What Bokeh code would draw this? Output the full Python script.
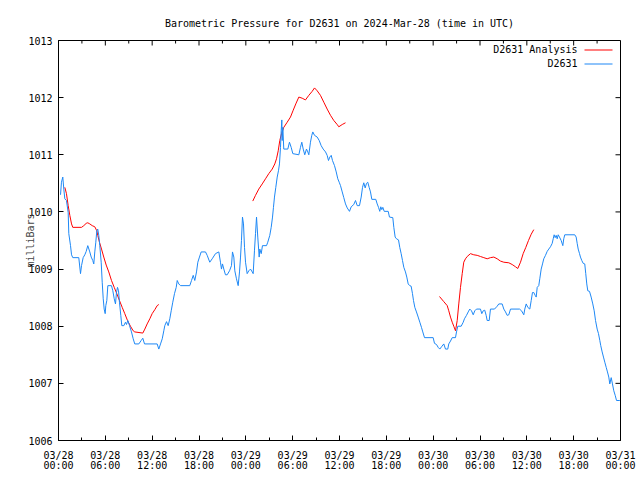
import math
from datetime import datetime, timedelta, timezone
from bokeh.plotting import figure
from bokeh.models import Range1d, FixedTicker, DatetimeTickFormatter, Label, BoxAnnotation
from bokeh.embed import file_html
from bokeh.resources import INLINE

TITLE = "Barometric Pressure for D2631 on 2024-Mar-28 (time in UTC)"
Y_LABEL = "milliBars"
SERIES_NAMES = ["D2631 Analysis", "D2631"]
SERIES_COLORS = ["#ff0000", "#1e88f5"]
START = datetime(2024, 3, 28, 0, 0)
SPAN_HOURS = 72
Y_TICKS = [1006, 1007, 1008, 1009, 1010, 1011, 1012, 1013]

# (hours since 2024-03-28 00:00 UTC, millibars)
station = [
    (0.26, 1010.30), (0.38, 1010.52), (0.55, 1010.61), (0.68, 1010.40), (0.81, 1010.23),
    (1.02, 1010.20), (1.24, 1009.99), (1.32, 1009.62), (1.54, 1009.41), (1.67, 1009.25),
    (1.83, 1009.20), (2.60, 1009.20), (2.82, 1008.92), (2.95, 1009.06), (3.16, 1009.20),
    (3.37, 1009.25), (3.55, 1009.31), (3.75, 1009.41), (4.01, 1009.30), (4.19, 1009.21),
    (4.39, 1009.15), (4.52, 1009.09), (4.65, 1009.30), (4.78, 1009.47), (4.91, 1009.67),
    (5.03, 1009.70), (5.16, 1009.59), (5.29, 1009.41), (5.47, 1009.12), (5.60, 1008.77),
    (5.73, 1008.48), (5.85, 1008.30), (5.98, 1008.22), (6.06, 1008.36), (6.19, 1008.45),
    (6.32, 1008.71), (6.79, 1008.71), (6.96, 1008.62), (7.14, 1008.48), (7.30, 1008.39),
    (7.43, 1008.59), (7.56, 1008.68), (7.69, 1008.62), (7.81, 1008.42), (7.98, 1008.19),
    (8.11, 1008.01), (8.37, 1008.01), (8.58, 1008.07), (8.71, 1008.03), (8.88, 1008.10),
    (9.10, 1008.01), (9.35, 1007.90), (9.57, 1007.78), (9.77, 1007.69), (10.29, 1007.69),
    (10.59, 1007.75), (10.80, 1007.79), (11.02, 1007.69), (12.64, 1007.69), (12.85, 1007.60),
    (13.07, 1007.69), (13.29, 1007.78), (13.49, 1007.92), (13.62, 1008.01), (13.84, 1008.08),
    (14.05, 1008.01), (14.26, 1008.13), (14.44, 1008.27), (14.64, 1008.42), (14.86, 1008.57),
    (15.08, 1008.68), (15.21, 1008.80), (15.41, 1008.74), (15.63, 1008.71), (16.82, 1008.71),
    (17.04, 1008.80), (17.26, 1008.89), (17.46, 1008.80), (17.68, 1008.95), (17.85, 1009.12),
    (18.06, 1009.21), (18.28, 1009.30), (18.83, 1009.30), (19.05, 1009.24), (19.38, 1009.12),
    (19.69, 1009.18), (20.11, 1009.27), (20.54, 1009.30), (20.75, 1009.12), (20.88, 1009.00),
    (21.01, 1009.09), (21.18, 1009.00), (21.39, 1008.90), (21.61, 1008.90), (21.91, 1008.97),
    (22.16, 1009.06), (22.29, 1009.30), (22.46, 1009.21), (22.59, 1008.97), (22.80, 1008.83),
    (23.02, 1008.71), (23.19, 1008.95), (23.32, 1009.21), (23.44, 1009.50), (23.57, 1009.91),
    (23.70, 1009.79), (23.83, 1009.38), (23.96, 1009.12), (24.17, 1008.92), (24.38, 1008.97),
    (24.60, 1009.00), (24.82, 1008.95), (24.94, 1008.92), (25.11, 1009.33), (25.24, 1009.62),
    (25.37, 1009.91), (25.53, 1009.56), (25.71, 1009.21), (25.79, 1009.35), (25.97, 1009.27),
    (26.13, 1009.41), (26.65, 1009.41), (26.81, 1009.47), (27.07, 1009.59), (27.25, 1009.73),
    (27.42, 1009.91), (27.54, 1010.08), (27.67, 1010.26), (27.84, 1010.43), (28.02, 1010.61),
    (28.18, 1010.72), (28.31, 1010.84), (28.44, 1011.13), (28.53, 1011.42), (28.61, 1011.61),
    (28.66, 1011.25), (28.74, 1011.48), (28.86, 1011.10), (29.38, 1011.10), (29.59, 1011.22),
    (29.81, 1011.13), (30.02, 1011.02), (30.79, 1011.00), (31.00, 1011.13), (31.17, 1011.22),
    (31.35, 1011.10), (31.55, 1011.00), (31.77, 1011.10), (31.94, 1011.05), (32.07, 1011.00),
    (32.28, 1011.22), (32.45, 1011.34), (32.58, 1011.40), (32.80, 1011.34), (33.14, 1011.31),
    (33.40, 1011.25), (33.65, 1011.16), (33.91, 1011.10), (34.21, 1011.05), (34.42, 1010.99),
    (34.59, 1010.90), (34.76, 1010.96), (34.94, 1010.99), (35.10, 1010.90), (35.36, 1010.81),
    (35.58, 1010.70), (35.78, 1010.58), (35.96, 1010.52), (36.13, 1010.46), (36.35, 1010.35),
    (36.55, 1010.25), (36.77, 1010.14), (36.99, 1010.07), (37.28, 1010.01), (37.50, 1010.09),
    (37.83, 1010.13), (38.05, 1010.20), (38.27, 1010.11), (38.56, 1010.11), (38.78, 1010.26),
    (38.95, 1010.43), (39.11, 1010.51), (39.29, 1010.42), (39.46, 1010.50), (39.62, 1010.52),
    (39.80, 1010.43), (39.97, 1010.35), (40.14, 1010.22), (40.65, 1010.22), (40.83, 1010.14),
    (41.00, 1010.08), (41.16, 1010.01), (41.29, 1010.09), (41.42, 1010.04), (41.55, 1010.08),
    (41.73, 1010.01), (42.24, 1010.01), (42.40, 1009.91), (42.83, 1009.90), (42.96, 1009.73),
    (43.13, 1009.56), (43.30, 1009.53), (43.56, 1009.51), (43.72, 1009.38), (43.90, 1009.27),
    (44.07, 1009.15), (44.24, 1009.03), (44.45, 1008.95), (44.62, 1008.86), (44.80, 1008.74),
    (45.00, 1008.71), (45.18, 1008.70), (45.35, 1008.57), (45.48, 1008.45), (45.65, 1008.33),
    (45.86, 1008.25), (46.08, 1008.16), (46.29, 1008.07), (46.50, 1007.98), (46.67, 1007.90),
    (46.89, 1007.80), (48.00, 1007.80), (48.17, 1007.70), (48.43, 1007.68), (48.64, 1007.63),
    (48.85, 1007.60), (49.07, 1007.64), (49.36, 1007.69), (49.58, 1007.60), (49.87, 1007.60),
    (50.00, 1007.69), (50.22, 1007.74), (50.44, 1007.80), (50.86, 1007.80), (50.99, 1007.90),
    (51.15, 1008.00), (51.59, 1008.00), (51.85, 1008.07), (52.01, 1008.13), (52.27, 1008.19),
    (52.49, 1008.25), (52.69, 1008.30), (52.91, 1008.27), (53.13, 1008.20), (53.33, 1008.27),
    (53.55, 1008.30), (54.06, 1008.30), (54.23, 1008.22), (54.41, 1008.27), (54.61, 1008.28),
    (54.79, 1008.19), (54.92, 1008.10), (55.18, 1008.10), (55.34, 1008.30), (55.86, 1008.30),
    (56.20, 1008.35), (56.41, 1008.39), (56.84, 1008.39), (57.05, 1008.30), (57.27, 1008.25),
    (57.48, 1008.19), (57.69, 1008.20), (57.91, 1008.30), (59.06, 1008.30), (59.32, 1008.27),
    (59.61, 1008.20), (59.74, 1008.30), (59.92, 1008.39), (60.12, 1008.33), (60.38, 1008.30),
    (60.56, 1008.45), (60.72, 1008.59), (60.89, 1008.59), (61.07, 1008.54), (61.20, 1008.51),
    (61.33, 1008.68), (61.53, 1008.71), (61.66, 1008.83), (61.84, 1009.00), (62.01, 1009.09),
    (62.17, 1009.18), (62.39, 1009.24), (62.61, 1009.31), (62.81, 1009.35), (63.03, 1009.39),
    (63.25, 1009.45), (63.38, 1009.53), (63.50, 1009.60), (63.63, 1009.55), (63.76, 1009.59),
    (63.89, 1009.53), (64.02, 1009.60), (64.18, 1009.56), (64.40, 1009.50), (64.61, 1009.41),
    (64.73, 1009.53), (64.86, 1009.60), (66.14, 1009.60), (66.32, 1009.56), (66.45, 1009.45),
    (66.58, 1009.35), (66.75, 1009.27), (66.87, 1009.21), (67.04, 1009.15), (67.22, 1009.10),
    (67.42, 1009.09), (67.55, 1008.92), (67.68, 1008.74), (67.81, 1008.62), (68.03, 1008.61),
    (68.24, 1008.51), (68.45, 1008.39), (68.63, 1008.27), (68.80, 1008.10), (69.01, 1007.95),
    (69.18, 1007.87), (69.35, 1007.75), (69.47, 1007.66), (69.65, 1007.55), (69.82, 1007.46),
    (69.99, 1007.37), (70.17, 1007.28), (70.33, 1007.20), (70.50, 1007.11), (70.63, 1006.99),
    (70.81, 1007.10), (70.97, 1006.99), (71.14, 1006.87), (71.32, 1006.79), (71.49, 1006.70),
    (71.91, 1006.70),
]

analysis_run1 = [
    (0.81, 1010.43), (1.02, 1010.32), (1.24, 1010.11), (1.45, 1009.94), (1.67, 1009.79),
    (1.83, 1009.73), (2.95, 1009.73), (3.24, 1009.76), (3.55, 1009.80), (3.75, 1009.81),
    (4.01, 1009.79), (4.32, 1009.76), (4.65, 1009.74), (4.91, 1009.67), (5.03, 1009.59),
    (5.25, 1009.47), (5.51, 1009.35), (5.80, 1009.21), (6.11, 1009.07), (6.44, 1008.95),
    (6.79, 1008.80), (7.14, 1008.68), (7.47, 1008.57), (7.81, 1008.45), (8.16, 1008.33),
    (8.49, 1008.22), (8.84, 1008.10), (9.22, 1008.00), (9.57, 1007.92), (9.77, 1007.90),
    (10.80, 1007.88), (11.06, 1007.95), (11.36, 1008.04), (11.70, 1008.13), (12.00, 1008.22),
    (12.34, 1008.29), (12.64, 1008.36), (12.85, 1008.38),
]
analysis_run2 = [
    (24.89, 1010.19), (25.24, 1010.29), (25.66, 1010.40), (26.10, 1010.49), (26.52, 1010.58),
    (26.94, 1010.67), (27.38, 1010.75), (27.71, 1010.84), (27.93, 1010.93), (28.15, 1011.07),
    (28.35, 1011.25), (28.57, 1011.37), (28.86, 1011.48), (29.30, 1011.57), (29.72, 1011.66),
    (30.07, 1011.78), (30.40, 1011.89), (30.79, 1012.01), (31.22, 1011.99), (31.64, 1011.96),
    (32.07, 1012.04), (32.50, 1012.11), (32.80, 1012.17), (33.14, 1012.12), (33.56, 1012.04),
    (33.99, 1011.92), (34.42, 1011.80), (34.85, 1011.69), (35.27, 1011.60), (35.70, 1011.53),
    (35.91, 1011.49), (36.35, 1011.53), (36.77, 1011.56),
]
analysis_run3 = [
    (48.81, 1008.52), (49.36, 1008.43), (49.80, 1008.36), (50.00, 1008.27), (50.22, 1008.16),
    (50.44, 1008.07), (50.64, 1008.00), (50.86, 1007.92), (51.08, 1008.10), (51.28, 1008.39),
    (51.50, 1008.68), (51.72, 1008.92), (51.92, 1009.12), (52.14, 1009.18), (52.36, 1009.22),
    (52.78, 1009.27), (53.20, 1009.25), (53.64, 1009.24), (54.06, 1009.22), (54.49, 1009.20),
    (54.92, 1009.18), (55.34, 1009.20), (55.77, 1009.21), (56.20, 1009.18), (56.62, 1009.14),
    (57.05, 1009.12), (57.69, 1009.11), (58.12, 1009.08), (58.55, 1009.04), (58.84, 1009.01),
    (59.19, 1009.12), (59.53, 1009.27), (59.87, 1009.38), (60.21, 1009.50), (60.56, 1009.61),
    (60.89, 1009.69),
]


def to_dt(h):
    return START + timedelta(hours=h)


def ms(dt):
    return dt.replace(tzinfo=timezone.utc).timestamp() * 1000.0


FONT = "DejaVu Sans Mono"
FS = "10px"

p = figure(width=640, height=480, x_axis_type="datetime",
           x_range=Range1d(to_dt(0), to_dt(SPAN_HOURS)), y_range=Range1d(1006, 1013),
           output_backend="svg", toolbar_location=None,
           min_border_left=58, min_border_right=20, min_border_top=40, min_border_bottom=40)
p.background_fill_color = "white"
p.border_fill_color = "white"
p.outline_line_color = "black"
p.xgrid.grid_line_color = None
p.ygrid.grid_line_color = None

p.title.text = TITLE
p.title.align = "center"
p.title.text_font = FONT
p.title.text_font_size = FS
p.title.text_font_style = "normal"
p.title.text_color = "black"
p.title.standoff = 24

major_hours = list(range(0, SPAN_HOURS + 1, 6))
minor_hours = list(range(3, SPAN_HOURS, 6))
major_x = [ms(to_dt(h)) for h in major_hours]
minor_x = [ms(to_dt(h)) for h in minor_hours]
fmt = "%m/%d\n%H:%M"
xfmt = DatetimeTickFormatter(microseconds=fmt, milliseconds=fmt, seconds=fmt, minsec=fmt,
                             minutes=fmt, hourmin=fmt, hours=fmt, days=fmt, months=fmt, years=fmt)

xa = p.xaxis[0]
xa.ticker = FixedTicker(ticks=major_x, minor_ticks=minor_x)
xa.formatter = xfmt
xa.major_tick_in = 5
xa.major_tick_out = 0
xa.minor_tick_in = 3
xa.minor_tick_out = 0
xa.axis_line_color = "black"
xa.major_tick_line_color = "black"
xa.minor_tick_line_color = "black"
xa.major_label_text_font = FONT
xa.major_label_text_font_size = FS
xa.major_label_text_color = "black"
xa.major_label_text_line_height = 0.95
xa.major_label_standoff = 9

ya = p.yaxis[0]
ya.ticker = FixedTicker(ticks=Y_TICKS, minor_ticks=[])
ya.major_tick_in = 5
ya.major_tick_out = 0
ya.minor_tick_in = 0
ya.minor_tick_out = 0
ya.axis_line_color = "black"
ya.major_tick_line_color = "black"
ya.major_label_text_font = FONT
ya.major_label_text_font_size = FS
ya.major_label_text_color = "black"
ya.major_label_standoff = 6
ya.axis_label = Y_LABEL
ya.axis_label_text_font = FONT
ya.axis_label_text_font_size = FS
ya.axis_label_text_font_style = "normal"
ya.axis_label_standoff = -11

# mirrored inward ticks on the top and right borders (gnuplot style)
y_top = Y_TICKS[-1]
p.ray(x=[to_dt(h) for h in major_hours], y=[y_top] * len(major_hours), length=5,
      angle=-math.pi / 2, length_units="screen", line_color="black", line_width=1)
p.ray(x=[to_dt(h) for h in minor_hours], y=[y_top] * len(minor_hours), length=3,
      angle=-math.pi / 2, length_units="screen", line_color="black", line_width=1)
p.ray(x=[to_dt(SPAN_HOURS)] * len(Y_TICKS), y=Y_TICKS, length=5,
      angle=math.pi, length_units="screen", line_color="black", line_width=1)

for run in (analysis_run1, analysis_run2, analysis_run3):
    p.line([to_dt(h) for h, _ in run], [v for _, v in run],
           line_color=SERIES_COLORS[0], line_width=1)
p.line([to_dt(h) for h, _ in station], [v for _, v in station],
       line_color=SERIES_COLORS[1], line_width=1)

# gnuplot-style key: text on the left, sample line on the right
for i, (name, col) in enumerate(zip(SERIES_NAMES, SERIES_COLORS)):
    yy = 391 - 14 * i
    p.add_layout(Label(x=519, y=yy, x_units="screen", y_units="screen", text=name,
                       text_align="right", text_baseline="middle",
                       text_font=FONT, text_font_size=FS, text_color="black"))
    p.add_layout(BoxAnnotation(left=526, right=554, bottom=yy - 1, top=yy,
                               left_units="screen", right_units="screen",
                               bottom_units="screen", top_units="screen",
                               fill_color=col, fill_alpha=1.0, line_color=None))

open("out.html", "w").write(file_html(p, INLINE))
